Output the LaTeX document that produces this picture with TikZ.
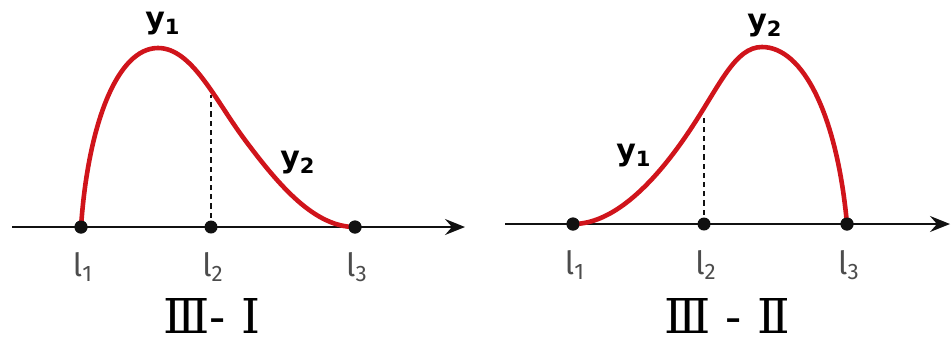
\documentclass[tikz,border=0pt]{standalone}
\usepackage{fontspec}
\setmainfont{Fira Sans}
\newfontfamily\curvelabelfont{DejaVu Sans}
\newfontfamily\numeralfont{DejaVu Serif}
\definecolor{curvered}{HTML}{D0141B}
\definecolor{axisblack}{HTML}{111111}
\usetikzlibrary{arrows.meta}
\tikzset{
    axisline/.style={
        -{Stealth[length=10pt,width=8pt,inset=3.5pt]},
        draw=axisblack,
        line width=0.9pt
    },
    curveline/.style={
        draw=curvered,
        line width=2.3pt,
        line cap=round
    },
    guideline/.style={
        draw=axisblack,
        line width=0.8pt,
        dash pattern=on 2.6pt off 2pt
    },
    pointdot/.style={
        circle,
        fill=axisblack,
        inner sep=0pt,
        minimum size=6.5pt
    },
    pointlabel/.style={
        text=black!70,
        font=\fontsize{16}{18}\selectfont,
        inner sep=0pt
    },
    curvelabel/.style={
        font=\curvelabelfont\bfseries\fontsize{15}{18}\selectfont,
        inner sep=0pt
    },
    paneltitle/.style={
        font=\numeralfont\fontsize{24}{26}\selectfont,
        inner sep=0pt,
        text depth=0pt
    }
}

\begin{document}
\begin{tikzpicture}[x=0.5pt,y=-0.5pt]
    \useasboundingbox (0,0) rectangle (952,345);

    % panel III - I
    \coordinate (lstart) at (12,227);
    \coordinate (lend) at (465,227);
    \node[pointdot] (la) at (81,227) {};
    \node[pointdot] (lb) at (211,227) {};
    \node[pointdot] (lc) at (355,227) {};
    \coordinate (lguidetop) at (211,95);
    \draw[axisline] (lstart) -- (lend);
    \draw[guideline] (lb.center) -- (lguidetop);
    \draw[curveline] (la.center)
        .. controls (88,125) and (117,48) .. (158,48)
        .. controls (192,48) and (215,100) .. (245,140)
        .. controls (280,187) and (315,227) .. (lc.center);
    \node[pointdot] at (la) {};
    \node[pointdot] at (lc) {};
    \node[pointlabel] (lalabel) at (83,267) {l\textsubscript{1}};
    \node[pointlabel] (lblabel) at (213,267) {l\textsubscript{2}};
    \node[pointlabel] (lclabel) at (357,267) {l\textsubscript{3}};
    \node[curvelabel] (lyone) at (163,24) {y\textsubscript{1}};
    \node[curvelabel] (lytwo) at (298,163) {y\textsubscript{2}};
    \node[paneltitle] (ltitle) at (212,316) {Ⅲ- Ⅰ};

    % panel III - II
    \coordinate (rstart) at (505,224);
    \coordinate (rend) at (950,224);
    \node[pointdot] (ra) at (573,224) {};
    \node[pointdot] (rb) at (704,224) {};
    \node[pointdot] (rc) at (847,224) {};
    \coordinate (rguidetop) at (704,114);
    \draw[axisline] (rstart) -- (rend);
    \draw[guideline] (rb.center) -- (rguidetop);
    \draw[curveline] (ra.center)
        .. controls (610,224) and (650,190) .. (690,130)
        .. controls (720,85) and (735,47) .. (762,47)
        .. controls (803,47) and (837,115) .. (rc.center);
    \node[pointdot] at (ra) {};
    \node[pointdot] at (rc) {};
    \node[pointlabel] (ralabel) at (575,265) {l\textsubscript{1}};
    \node[pointlabel] (rblabel) at (706,265) {l\textsubscript{2}};
    \node[pointlabel] (rclabel) at (849,265) {l\textsubscript{3}};
    \node[curvelabel] (ryone) at (634,156) {y\textsubscript{1}};
    \node[curvelabel] (rytwo) at (765,26) {y\textsubscript{2}};
    \node[paneltitle] (rtitle) at (727,316) {Ⅲ - Ⅱ};
\end{tikzpicture}
\end{document}
